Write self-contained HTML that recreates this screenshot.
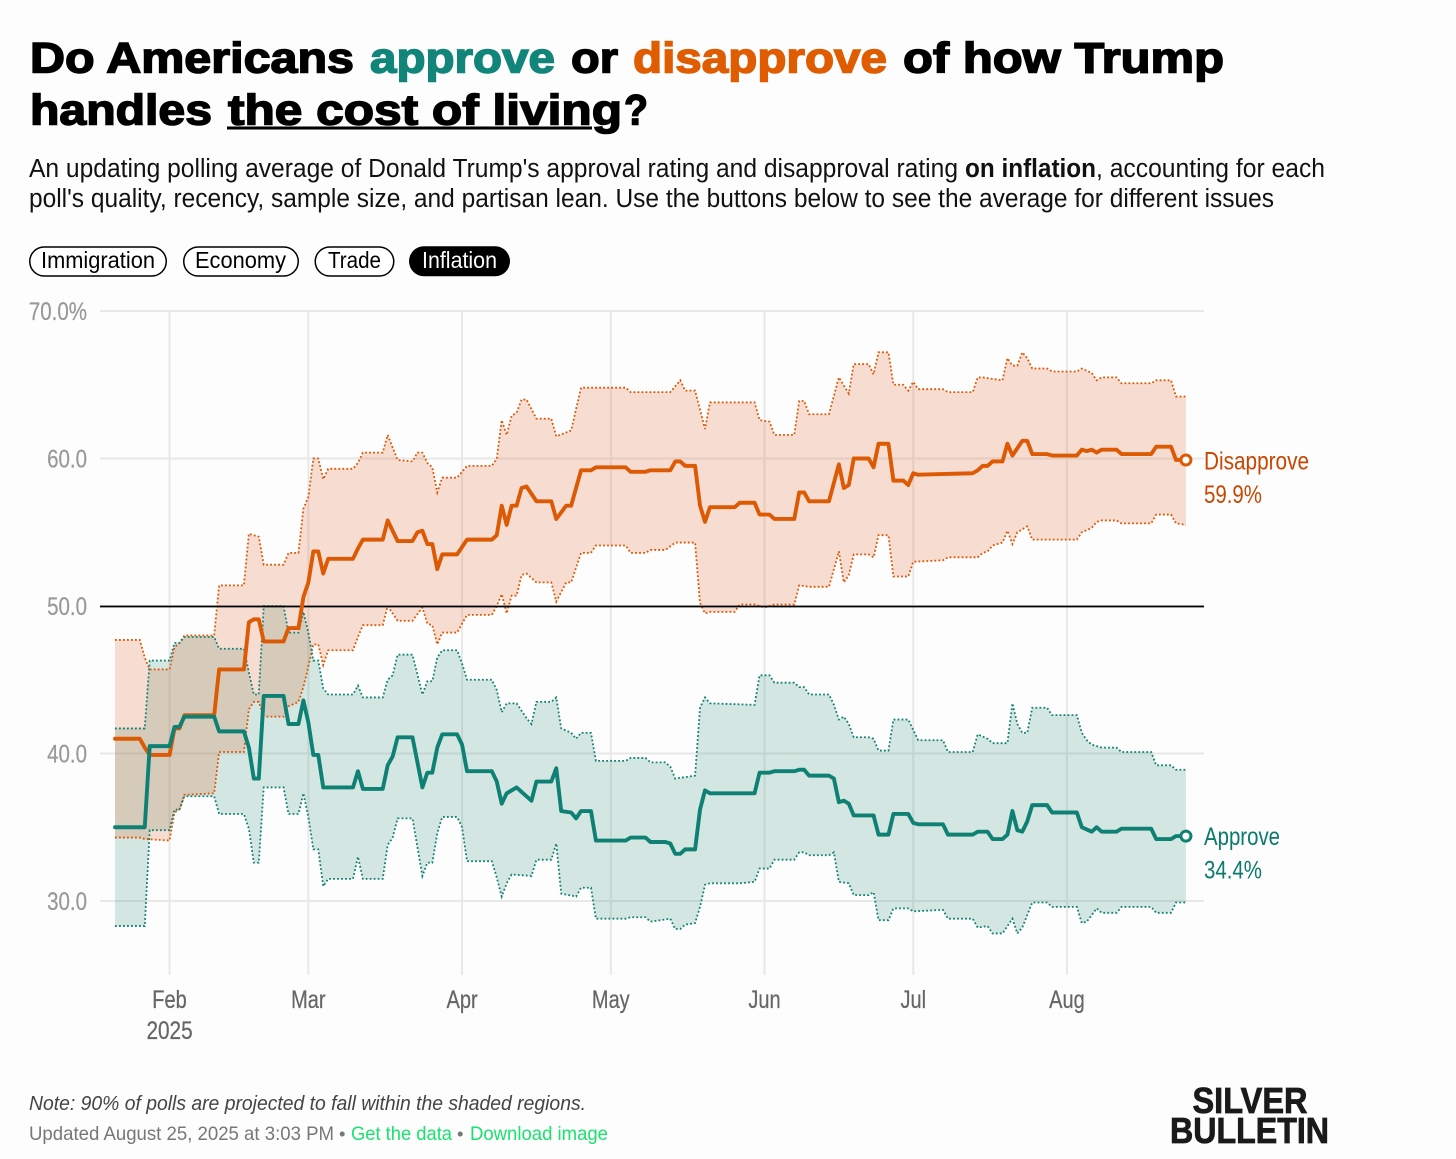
<!DOCTYPE html>
<html lang="en">
<head>
<meta charset="utf-8">
<title>Trump approval on inflation</title>
<style>
html,body{margin:0;padding:0;background:#fdfdfd;}
svg{display:block;}
text{font-family:"Liberation Sans",Arial,sans-serif;}
.title{font-size:43px;font-weight:700;stroke-width:1.5px;}
.sub{font-size:25.5px;fill:#111;}
.pill-text{font-size:23px;}
.tick{font-size:25px;stroke-width:.25px;}
.end{font-size:25px;}
</style>
</head>
<body>
<svg id="chart" width="1456" height="1159" viewBox="0 0 1456 1159" xmlns="http://www.w3.org/2000/svg">
<rect width="1456" height="1159" fill="#fdfdfd"/>

<g>
<text class="title" x="30" y="72.5" textLength="324" lengthAdjust="spacingAndGlyphs" fill="#000" stroke="#000">Do Americans</text>
<text class="title" x="370" y="72.5" textLength="185" lengthAdjust="spacingAndGlyphs" fill="#12857a" stroke="#12857a">approve</text>
<text class="title" x="571" y="72.5" textLength="47" lengthAdjust="spacingAndGlyphs" fill="#000" stroke="#000">or</text>
<text class="title" x="633" y="72.5" textLength="254" lengthAdjust="spacingAndGlyphs" fill="#e05c00" stroke="#e05c00">disapprove</text>
<text class="title" x="903" y="72.5" textLength="321" lengthAdjust="spacingAndGlyphs" fill="#000" stroke="#000">of how Trump</text>
<text class="title" x="30" y="124.5" textLength="182" lengthAdjust="spacingAndGlyphs" fill="#000" stroke="#000">handles</text>
<text class="title" x="228" y="124.5" textLength="394" lengthAdjust="spacingAndGlyphs" fill="#000" stroke="#000">the cost of living</text>
<text class="title" x="624" y="124.5" textLength="24" lengthAdjust="spacingAndGlyphs" fill="#000" stroke="#000">?</text>
<rect x="227" y="126.5" width="365" height="3" fill="#000"/>
</g>

<g>
<text class="sub" x="29" y="177" textLength="929" lengthAdjust="spacingAndGlyphs">An updating polling average of Donald Trump's approval rating and disapproval rating</text>
<text class="sub" x="965" y="177" textLength="131" lengthAdjust="spacingAndGlyphs" font-weight="700">on inflation</text>
<text class="sub" x="1096" y="177" textLength="229" lengthAdjust="spacingAndGlyphs">, accounting for each</text>
<text class="sub" x="29" y="207" textLength="1245" lengthAdjust="spacingAndGlyphs">poll's quality, recency, sample size, and partisan lean. Use the buttons below to see the average for different issues</text>
</g>

<g>
<g>
<rect x="29.75" y="247" width="136.5" height="29" rx="14.5" fill="#fff" stroke="#000" stroke-width="1.5"/>
<text class="pill-text" x="41" y="268" textLength="114" lengthAdjust="spacingAndGlyphs" fill="#000">Immigration</text>
</g>
<g>
<rect x="183.75" y="247" width="114.5" height="29" rx="14.5" fill="#fff" stroke="#000" stroke-width="1.5"/>
<text class="pill-text" x="195" y="268" textLength="91" lengthAdjust="spacingAndGlyphs" fill="#000">Economy</text>
</g>
<g>
<rect x="315.25" y="247" width="78.5" height="29" rx="14.5" fill="#fff" stroke="#000" stroke-width="1.5"/>
<text class="pill-text" x="328" y="268" textLength="53" lengthAdjust="spacingAndGlyphs" fill="#000">Trade</text>
</g>
<g>
<rect x="409" y="246.25" width="101" height="30" rx="15" fill="#000"/>
<text class="pill-text" x="422" y="268" textLength="75" lengthAdjust="spacingAndGlyphs" fill="#fff">Inflation</text>
</g>
</g>

<g id="grid-layer"></g>
<g id="y-label-layer"></g>
<g id="x-label-layer"></g>
<g id="band-layer"></g>
<g id="ref-layer"></g>
<g id="line-layer"></g>

<g>
<text class="end" x="1204" y="469.5" textLength="105" lengthAdjust="spacingAndGlyphs" fill="#c84600">Disapprove</text>
<text class="end" x="1204" y="503" textLength="58" lengthAdjust="spacingAndGlyphs" fill="#c84600">59.9%</text>
</g>
<g>
<text class="end" x="1204" y="845" textLength="76" lengthAdjust="spacingAndGlyphs" fill="#0b7a6b">Approve</text>
<text class="end" x="1204" y="878.5" textLength="58" lengthAdjust="spacingAndGlyphs" fill="#0b7a6b">34.4%</text>
</g>

<g>
<text x="29" y="1110" font-size="20" font-style="italic" fill="#444" textLength="557" lengthAdjust="spacingAndGlyphs">Note: 90% of polls are projected to fall within the shaded regions.</text>
<text x="29" y="1140" font-size="19.5" fill="#777" textLength="305" lengthAdjust="spacingAndGlyphs">Updated August 25, 2025 at 3:03 PM</text>
<text x="339" y="1140" font-size="18.5" fill="#777">•</text>
<text x="351" y="1140" font-size="19.5" fill="#17e36d" textLength="101" lengthAdjust="spacingAndGlyphs">Get the data</text>
<text x="457" y="1140" font-size="18.5" fill="#777">•</text>
<text x="470" y="1140" font-size="19.5" fill="#17e36d" textLength="138" lengthAdjust="spacingAndGlyphs">Download image</text>
</g>

<g>
<text x="1192.5" y="1113" font-size="36" font-weight="700" fill="#1a1a1a" stroke="#1a1a1a" stroke-width=".8" textLength="115" lengthAdjust="spacingAndGlyphs">SILVER</text>
<text x="1170" y="1143" font-size="36" font-weight="700" fill="#1a1a1a" stroke="#1a1a1a" stroke-width=".8" textLength="159" lengthAdjust="spacingAndGlyphs">BULLETIN</text>
</g>
</svg>

<script>
// Days are counted from January 21, 2025 (day 0). Values are percentages.
const yTicks = [70, 60, 50, 40, 30];
const yTickLabels = ['70.0%', '60.0', '50.0', '40.0', '30.0'];
const xTicks = [11, 39, 70, 100, 131, 161, 192];
const xTickLabels = ['Feb', 'Mar', 'Apr', 'May', 'Jun', 'Jul', 'Aug'];
const yearLabel = '2025';
const referenceValue = 50;

const disapproveMeanDays = [0,5,6,7,11,12,13,14,20,21,
26,27,28,29,30,34,35,37,38,39,
40,41,42,43,48,49,50,54,55,57,
60,61,62,63,64,65,66,69,71,76,
77,78,79,80,81,82,83,85,88,89,
91,92,94,96,97,103,104,107,108,112,
113,114,115,117,118,119,120,125,126,129,
130,132,133,137,138,139,140,144,146,147,
148,149,152,153,154,156,157,159,160,161,
162,173,174,175,176,177,179,180,181,183,
184,185,188,189,194,195,196,197,198,199,
202,203,209,210,213,214,216];
const disapproveMeanValues = [41,41,40.4,39.9,39.9,41.7,41.7,42.6,42.6,45.7,
45.7,48.9,49.1,49.1,47.6,47.6,48.5,48.5,50.6,51.6,
53.7,53.7,52.2,53.2,53.2,53.9,54.5,54.5,55.8,54.4,
54.4,55,55.1,54.2,54.2,52.5,53.5,53.5,54.5,54.5,
54.8,56.8,55.5,56.8,56.8,58,58.1,57.1,57.1,55.9,
56.8,56.8,59.2,59.2,59.4,59.4,59.1,59.1,59.2,59.2,
59.8,59.8,59.5,59.5,56.8,55.7,56.7,56.7,57,57,
56.2,56.2,55.9,55.9,57.7,57.7,57.1,57.1,59.6,58,
58.2,60,60,59.4,61,61,58.5,58.5,58.2,59,
58.9,59,59.2,59.5,59.5,59.8,59.8,61,60.2,61.2,
61.2,60.3,60.3,60.2,60.2,60.6,60.5,60.6,60.4,60.6,
60.6,60.3,60.3,60.8,60.8,59.9,59.9];

const disapproveUpperDays = [0,5,6,7,11,12,13,14,20,21,
26,27,29,30,34,35,37,38,39,40,
41,42,43,48,49,50,54,55,57,60,
61,62,63,64,65,66,69,71,76,77,
78,79,80,81,82,83,85,88,89,92,
94,103,104,112,114,115,117,119,120,129,
130,132,133,137,138,139,140,144,146,148,
149,152,153,154,156,157,159,160,161,162,
167,168,173,174,175,179,180,181,182,183,
184,185,188,189,194,195,197,198,199,202,
203,209,210,213,214,216];
const disapproveUpperValues = [47.7,47.7,46.5,45.7,45.7,47.2,47.5,48,48,51.4,
51.4,54.9,54.7,52.8,52.8,53.6,53.6,56.6,57.4,60,
60,58.6,59.3,59.3,59.7,60.4,60.4,61.6,59.9,59.8,
60.4,60.4,59.7,59.4,57.7,58.7,58.7,59.5,59.5,60,
62.6,61.6,62.9,63.1,64,64,62.7,62.7,61.5,61.9,
64.8,64.8,64.5,64.5,65.3,64.6,64.6,62,63.8,63.8,
62.6,62.5,61.6,61.6,63.9,63.9,63,63,65.5,64.4,
66.4,66.4,65.7,67.2,67.2,65,65,64.6,65.2,64.7,
64.7,64.5,64.5,65.5,65.5,65.3,66.8,66.3,66.3,67.2,
66.8,66.1,66.1,65.9,65.9,66.1,65.8,65.3,65.5,65.5,
65.1,65.1,65.3,65.3,64.2,64.2];

const disapproveLowerDays = [0,5,6,11,12,13,14,20,21,26,
27,28,29,30,34,35,37,38,39,40,
41,42,43,48,49,50,54,55,57,60,
62,63,64,65,66,69,71,76,77,78,
79,80,81,82,83,85,88,89,91,92,
94,96,97,103,104,107,108,111,113,117,
118,119,120,125,126,129,131,133,137,138,
140,144,146,147,148,149,152,153,154,156,
157,160,161,167,168,174,175,176,177,179,
180,181,182,184,185,194,195,197,198,199,
202,203,209,210,213,214,216];
const disapproveLowerValues = [34.3,34.3,34.2,34.1,36,36.2,37.2,37.3,40.1,40.1,
43,43.5,43.5,42.5,42.5,43.2,43.5,44.5,45.9,47.4,
47.4,46,47,47,47.9,48.7,48.7,50,49,49,
49.9,48.8,48.7,47.4,48.2,48.2,49.4,49.4,50,50.8,
49.5,50.7,50.7,52.1,52.2,51.6,51.6,50.3,51.6,51.6,
53.6,53.6,54.1,54.1,53.6,53.6,53.8,53.8,54.3,54.3,
50.2,49.5,49.6,49.6,50.1,50.1,49.9,50.1,50.1,51.4,
51.3,51.3,53.7,51.6,52.1,53.5,53.5,53.3,54.8,54.8,
52,52,53,53.1,53.3,53.3,53.6,53.7,54.1,54.3,
55.1,54.2,55,55.4,54.5,54.5,55,55.3,55.7,55.8,
55.8,55.6,55.6,56.2,56.2,55.6,55.5];

const approveMeanDays = [0,6,7,11,12,13,14,20,21,26,
27,28,29,30,34,35,37,38,39,40,
41,42,48,49,50,54,55,56,57,60,
62,63,64,65,66,69,70,71,76,77,
78,79,81,83,84,85,88,89,90,92,
93,94,96,97,103,104,107,108,111,112,
113,114,115,117,118,119,120,129,130,132,
133,137,138,139,140,144,145,146,147,148,
149,152,153,154,156,157,160,161,162,167,
168,173,174,176,177,179,180,181,182,183,
184,185,188,189,194,195,197,198,199,202,
203,209,210,213,214,216];
const approveMeanValues = [35,35,40.5,40.5,41.8,41.8,42.5,42.5,41.5,41.5,
40.4,38.3,38.3,43.9,43.9,42,42,43.6,42.1,39.9,
39.9,37.7,37.7,38.8,37.6,37.6,39.2,39.8,41.1,41.1,
37.7,38.7,38.7,40.4,41.3,41.3,40.6,38.8,38.8,38.1,
36.6,37.3,37.7,37.1,36.8,38.1,38.1,39,36.1,36,
35.6,36.1,36.1,34.1,34.1,34.3,34.3,34,34,33.9,
33.2,33.2,33.5,33.5,36.2,37.5,37.3,37.3,38.7,38.7,
38.8,38.8,38.9,38.9,38.5,38.5,38.3,36.7,36.8,36.6,
35.8,35.8,35.8,34.5,34.5,35.9,35.9,35.3,35.2,35.2,
34.5,34.5,34.7,34.7,34.2,34.2,34.5,36.1,34.8,34.7,
35.4,36.5,36.5,36,36,35,34.7,35,34.7,34.7,
34.9,34.9,34.2,34.2,34.4,34.4];

const approveUpperDays = [0,6,7,11,12,13,14,20,21,26,
27,28,29,30,34,35,37,38,39,40,
41,42,43,48,49,50,54,55,56,57,
60,62,63,64,65,66,69,70,71,76,
77,78,79,81,83,84,85,88,89,90,
92,93,94,96,97,103,104,107,108,111,
112,113,117,118,119,120,129,130,132,133,
137,138,139,140,144,145,146,147,148,149,
152,153,154,156,157,160,162,167,168,173,
174,176,177,180,181,182,183,184,185,188,
189,194,195,196,197,199,202,203,209,210,
213,214,216];
const approveUpperValues = [41.7,41.7,46.3,46.3,47.5,47.5,47.9,47.9,47.1,47.1,
45.5,44,44,50,50,48.2,48.2,49.6,48.2,46.3,
46.3,44.4,44,44,44.6,43.8,43.8,45,45.3,46.7,
46.7,44,44.9,44.9,46.5,47,47,46.1,45,45,
44.3,42.8,43.4,43.4,42.4,42,43.5,43.5,43.8,41.7,
41.4,41,41.4,41.4,39.5,39.5,39.7,39.7,39.4,39.4,
39.1,38.3,38.5,43.1,43.8,43.4,43.3,45.3,45.3,44.8,
44.8,44.5,44.5,44,44,43.3,42.3,42.5,42,41.1,
41.1,41,40.2,40.2,42.3,42.3,40.9,40.9,40.1,40.1,
41.3,41,40.7,40.7,43.4,42,41.4,41.4,43.1,43.1,
42.6,42.6,41.4,40.9,40.6,40.4,40.4,40.1,40.1,39.2,
39.2,38.9,38.9];

const approveLowerDays = [0,6,7,11,12,13,14,20,21,26,
27,28,29,30,34,35,37,38,39,40,
41,42,43,48,49,50,54,55,56,57,
60,62,63,64,65,66,69,70,71,76,
77,78,79,80,84,85,88,89,90,93,
94,96,97,103,104,107,108,112,113,114,
115,117,118,119,120,126,129,130,132,133,
137,138,139,140,144,145,146,148,149,152,
153,154,156,157,160,161,167,168,173,174,
176,177,179,181,182,183,185,188,189,194,
195,196,198,199,202,203,209,210,213,214,
216];
const approveLowerValues = [28.3,28.3,34.8,34.8,36.2,36.2,37.1,37.1,35.9,35.9,
34.9,32.6,32.6,37.7,37.7,35.9,35.9,37.3,35.7,33.5,
33.5,31,31.5,31.5,33,31.5,31.5,33.8,34.3,35.6,
35.6,31.7,32.6,32.6,34.6,35.7,35.7,35,32.7,32.7,
31.6,30.3,31.2,31.8,31.7,32.8,32.8,33.9,30.5,30.3,
30.9,30.9,28.8,28.8,28.9,28.9,28.6,28.8,28.1,28.1,
28.4,28.5,29.6,31.1,31.2,31.2,31.3,32.2,32.2,32.8,
32.8,33.3,33.3,33.1,33.1,33.3,31.3,31.2,30.4,30.4,
30.6,28.7,28.7,29.5,29.5,29.3,29.4,28.8,28.8,28.2,
28.3,27.8,27.8,28.8,27.8,28.2,29.9,29.9,29.6,29.6,
28.5,28.6,29.5,29.2,29.2,29.6,29.6,29.2,29.2,29.9,
29.9];

const NS = 'http://www.w3.org/2000/svg';
function xScale(day) { return 115 + day * 4.958; }
function yScale(value) { return 901 - (value - 30) * 14.75; }

function createSvg(tag, attrs, parentId) {
  const el = document.createElementNS(NS, tag);
  Object.keys(attrs).forEach(function (k) { el.setAttribute(k, attrs[k]); });
  document.getElementById(parentId).appendChild(el);
  return el;
}
function toPoints(days, values) {
  return days.map(function (d, i) { return xScale(d).toFixed(2) + ',' + yScale(values[i]).toFixed(2); });
}
function linePath(days, values) { return 'M' + toPoints(days, values).join('L'); }
function bandPath(upDays, upValues, lowDays, lowValues) {
  return 'M' + toPoints(upDays, upValues).join('L') + 'L' + toPoints(lowDays, lowValues).reverse().join('L') + 'Z';
}

// Gridlines and axis labels
yTicks.forEach(function (tick, i) {
  const y = yScale(tick);
  const grid = createSvg('line', { x1: 100, x2: 1204, y1: y, y2: y, stroke: '#e8e8e8', 'stroke-width': 2 }, 'grid-layer');
  
  
  const label = createSvg('text', { transform: 'translate(87,' + (y + 9) + ') scale(.82,1)', 'text-anchor': 'end', fill: '#999', stroke: '#999', 'class': 'tick' }, 'y-label-layer');
  
  
  label.textContent = yTickLabels[i];
});
xTicks.forEach(function (tick, i) {
  const x = xScale(tick);
  const grid = createSvg('line', { x1: x, x2: x, y1: 311, y2: 975, stroke: '#e8e8e8', 'stroke-width': 2 }, 'grid-layer');
  
  
  const label = createSvg('text', { transform: 'translate(' + x + ',1008) scale(.8,1)', 'text-anchor': 'middle', fill: '#666', stroke: '#666', 'class': 'tick' }, 'x-label-layer');
  
  
  label.textContent = xTickLabels[i];
});
const yearText = createSvg('text', { transform: 'translate(' + xScale(xTicks[0]) + ',1039) scale(.83,1)', 'text-anchor': 'middle', fill: '#666', stroke: '#666', 'class': 'tick' }, 'x-label-layer');


yearText.textContent = yearLabel;

// Shaded bands
const approveBand = createSvg('path', { d: bandPath(approveUpperDays, approveUpperValues, approveLowerDays, approveLowerValues), fill: 'rgb(48,138,113)', 'fill-opacity': .2 }, 'band-layer');


const disapproveBand = createSvg('path', { d: bandPath(disapproveUpperDays, disapproveUpperValues, disapproveLowerDays, disapproveLowerValues), fill: 'rgb(223,93,33)', 'fill-opacity': .2 }, 'band-layer');



// Dotted band limits
const dottedOrange = { fill: 'none', stroke: '#dd5500', 'stroke-width': 1.8, 'stroke-dasharray': '1.8 2.2' };
const dottedTeal = { fill: 'none', stroke: '#0e8174', 'stroke-width': 1.8, 'stroke-dasharray': '1.8 2.2' };
const disapproveUpperLine = createSvg('path', Object.assign({ d: linePath(disapproveUpperDays, disapproveUpperValues) }, dottedOrange), 'band-layer');


const disapproveLowerLine = createSvg('path', Object.assign({ d: linePath(disapproveLowerDays, disapproveLowerValues) }, dottedOrange), 'band-layer');


const approveUpperLine = createSvg('path', Object.assign({ d: linePath(approveUpperDays, approveUpperValues) }, dottedTeal), 'band-layer');


const approveLowerLine = createSvg('path', Object.assign({ d: linePath(approveLowerDays, approveLowerValues) }, dottedTeal), 'band-layer');



// 50% reference line
const referenceLine = createSvg('line', { x1: 100, x2: 1204, y1: yScale(referenceValue) + 0.5, y2: yScale(referenceValue) + 0.5, stroke: '#000', 'stroke-width': 1.8 }, 'ref-layer');



// Average lines
const disapproveLine = createSvg('path', { d: linePath(disapproveMeanDays, disapproveMeanValues), fill: 'none', stroke: '#dd5a05', 'stroke-width': 3.9, 'stroke-linejoin': 'round', 'stroke-linecap': 'round' }, 'line-layer');


const approveLine = createSvg('path', { d: linePath(approveMeanDays, approveMeanValues), fill: 'none', stroke: '#0e8174', 'stroke-width': 3.9, 'stroke-linejoin': 'round', 'stroke-linecap': 'round' }, 'line-layer');



// End markers
const disapproveDot = createSvg('circle', { cx: xScale(disapproveMeanDays[disapproveMeanDays.length - 1]), cy: yScale(disapproveMeanValues[disapproveMeanValues.length - 1]), r: 5, fill: '#fff', stroke: '#dd5a05', 'stroke-width': 3 }, 'line-layer');


const approveDot = createSvg('circle', { cx: xScale(approveMeanDays[approveMeanDays.length - 1]), cy: yScale(approveMeanValues[approveMeanValues.length - 1]), r: 5, fill: '#fff', stroke: '#0e8174', 'stroke-width': 3 }, 'line-layer');


</script>
</body>
</html>
